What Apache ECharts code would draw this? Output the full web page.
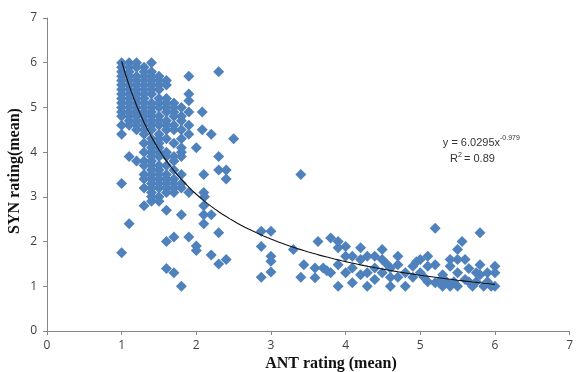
<!DOCTYPE html>
<html>
<head>
<meta charset="utf-8">
<script src="https://cdn.jsdelivr.net/npm/echarts@6/dist/echarts.min.js"></script>
<style>html,body{margin:0;padding:0;background:#fff}#c{width:576px;height:372px}</style>
</head>
<body>
<div id="c"></div>
<script>
// Dense cluster: x columns and their y values
const clusterX = [1.0, 1.1, 1.2, 1.3, 1.4, 1.5, 1.6, 1.7, 1.8, 1.9];
const clusterY = [
  [6.0,5.9,5.8,5.7,5.6,5.5,5.4,5.3,5.2,5.1,5.0,4.9,4.8,4.6,4.4,3.3,1.75],
  [6.0,5.9,5.8,5.7,5.6,5.5,5.4,5.3,5.2,5.1,5.0,4.9,4.8,4.7,4.6,3.9,2.4],
  [6.0,5.9,5.7,5.6,5.5,5.4,5.3,5.2,5.1,5.0,4.9,4.8,4.7,4.6,4.5,3.8],
  [5.9,5.8,5.7,5.6,5.5,5.4,5.3,5.2,5.1,5.0,4.9,4.8,4.7,4.6,4.5,4.4,4.2,4.0,3.8,3.7,3.5,3.4,3.2,2.8],
  [6.0,5.8,5.7,5.6,5.5,5.4,5.3,5.1,5.0,4.9,4.8,4.7,4.6,4.5,4.3,4.2,4.1,4.0,3.9,3.8,3.7,3.6,3.5,3.4,3.3,3.2,3.1,3.0,2.9],
  [5.7,5.6,5.5,5.4,5.2,5.1,5.0,4.8,4.7,4.6,4.4,4.3,4.2,4.1,4.0,3.9,3.7,3.6,3.5,3.4,3.3,3.2,3.0,2.9],
  [5.6,5.5,5.2,5.1,5.0,4.9,4.7,4.6,4.5,4.3,4.0,3.9,3.7,3.5,3.4,3.3,3.2,3.1,2.7,2.0,1.4],
  [5.1,5.0,4.9,4.8,4.6,4.5,4.2,3.9,3.8,3.6,3.4,3.3,3.2,3.1,2.1,1.3],
  [5.0,4.8,4.7,4.5,4.3,4.1,4.0,3.9,3.5,3.3,3.2,2.6,1.0],
  [5.7,5.3,5.15,4.9,4.6,4.4,3.1,2.1]
];
// Scattered points in the middle range
const midPoints = [
  [2.08,4.9],[2.08,4.5],[2.2,4.4],[2.5,4.3],[2.0,4.1],[2.3,3.9],[2.3,3.6],[2.4,3.6],
  [2.4,3.4],[2.1,3.5],[2.1,3.1],[2.11,3.0],[2.3,5.8],[2.1,2.8],[2.1,2.6],[2.2,2.6],
  [2.1,2.4],[2.3,2.2],[2.2,1.7],[2.3,1.5],[2.4,1.6],[2.0,1.9],[2.0,1.8],
  [2.87,2.23],[3.0,2.23],[2.87,1.89],[3.0,1.67],[3.0,1.56],[3.0,1.32],[2.87,1.2],
  [3.4,3.5],[3.3,1.82],[3.4,1.2],[3.44,1.48]
];
// Tail points at high ANT ratings
const tailPoints = [
  [3.59,1.19],[3.59,1.41],[3.63,2.0],[3.7,1.41],[3.8,2.08],[3.8,1.3],[3.9,2.0],[3.9,1.86],
  [3.9,1.48],[3.9,1.0],[4.0,1.89],[4.0,1.67],[4.0,1.3],[4.09,1.67],[4.09,1.41],[4.09,1.08],
  [4.2,1.86],[4.2,1.6],[4.2,1.26],[4.29,1.67],[4.29,1.3],[4.29,1.0],[4.39,1.67],[4.39,1.41],
  [4.39,1.15],[4.49,1.82],[4.49,1.6],[4.49,1.3],[4.6,1.41],[4.6,1.2],[4.6,1.0],[4.7,1.67],
  [4.7,1.48],[4.7,1.2],[4.8,1.3],[4.8,1.0],[4.9,1.45],[4.9,1.2],[5.0,1.6],[5.0,1.3],
  [5.1,1.67],[5.1,1.45],[5.1,1.1],[5.2,2.3],[5.2,1.48],[5.2,1.08],[5.3,1.26],[5.3,1.0],
  [5.4,1.6],[5.4,1.45],[5.4,1.0],[5.5,1.82],[5.5,1.6],[5.5,1.3],[5.5,1.0],[5.56,2.0],
  [5.6,1.6],[5.6,1.15],[5.7,1.0],[5.8,2.2],[5.8,1.48],[5.8,1.26],[5.9,1.3],[5.9,1.1],
  [6.0,1.45],[6.0,1.3],[6.0,1.0],[5.25,1.1],[5.35,1.1],[5.45,1.1],[5.65,1.1],[5.75,1.1],
  [5.85,1.0],[5.95,1.0],[5.65,1.4],[5.75,1.3],[4.95,1.55],[5.05,1.2],[4.55,1.5],[3.75,1.35]
];
// Power trendline shown on chart: y = 6.0295 x^-0.979
const trendA = 6.0295, trendB = -0.979, trendFrom = 1, trendTo = 6;
const xTicks = [0,1,2,3,4,5,6,7];
const yTicks = [0,1,2,3,4,5,6,7];

const scatterData = [];
clusterX.forEach((x, i) => clusterY[i].forEach(y => scatterData.push([x, y])));
midPoints.forEach(p => scatterData.push(p));
tailPoints.forEach(p => scatterData.push(p));

const trendData = [];
for (let x = trendFrom; x <= trendTo + 1e-9; x += 0.05) trendData.push([x, trendA * Math.pow(x, trendB)]);

const chart = echarts.init(document.getElementById('c'));
const labelFont = { color: '#404040', fontFamily: '"Open Sans", "Liberation Sans", sans-serif', fontSize: 12 };
const axisCommon = {
  min: xTicks[0], max: xTicks[xTicks.length - 1], interval: 1,
  splitLine: { show: false },
  axisLine: { show: true, lineStyle: { color: '#868686' } },
  axisTick: { show: true, length: 4, lineStyle: { color: '#868686' } }
};
chart.setOption({
  animation: false,
  grid: { left: 47, right: 3, top: 18, bottom: 41 },
  xAxis: Object.assign({ type: 'value' }, axisCommon, {
    axisLabel: Object.assign({ margin: 9 }, labelFont)
  }),
  yAxis: Object.assign({ type: 'value' }, axisCommon, {
    min: yTicks[0], max: yTicks[yTicks.length - 1],
    axisLabel: Object.assign({ margin: 10 }, labelFont)
  }),
  series: [
    {
      type: 'scatter', symbol: 'diamond', symbolSize: 11,
      itemStyle: { color: '#4F81BD', opacity: 1 },
      data: scatterData, z: 2
    },
    {
      type: 'line', showSymbol: false, smooth: false,
      lineStyle: { color: '#111', width: 1.1 },
      data: trendData, z: 3
    }
  ],
  graphic: [
    {
      type: 'text', x: 331, y: 364,
      style: {
        text: 'ANT rating (mean)',
        font: 'bold 16px "Liberation Serif", serif', fill: '#111',
        textAlign: 'center', textVerticalAlign: 'middle'
      }
    },
    {
      type: 'text', rotation: Math.PI / 2, x: 15, y: 171,
      style: {
        text: 'SYN rating(mean)',
        font: 'bold 16px "Liberation Serif", serif', fill: '#111',
        textAlign: 'center', textVerticalAlign: 'middle'
      }
    },
    {
      type: 'text', x: 500, y: 143,
      style: { text: 'y = 6.0295x', font: '11px "Liberation Sans", sans-serif', fill: '#333',
        textAlign: 'right', textVerticalAlign: 'middle' }
    },
    {
      type: 'text', x: 500, y: 138,
      style: { text: '-0.979', font: '7px "Liberation Sans", sans-serif', fill: '#333',
        textAlign: 'left', textVerticalAlign: 'middle' }
    },
    {
      type: 'text', x: 450, y: 159,
      style: { text: 'R', font: '11px "Liberation Sans", sans-serif', fill: '#333',
        textAlign: 'left', textVerticalAlign: 'middle' }
    },
    {
      type: 'text', x: 458, y: 155,
      style: { text: '2', font: '7px "Liberation Sans", sans-serif', fill: '#333',
        textAlign: 'left', textVerticalAlign: 'middle' }
    },
    {
      type: 'text', x: 464, y: 159,
      style: { text: '= 0.89', font: '11px "Liberation Sans", sans-serif', fill: '#333',
        textAlign: 'left', textVerticalAlign: 'middle' }
    }
  ]
});
</script>
</body>
</html>
